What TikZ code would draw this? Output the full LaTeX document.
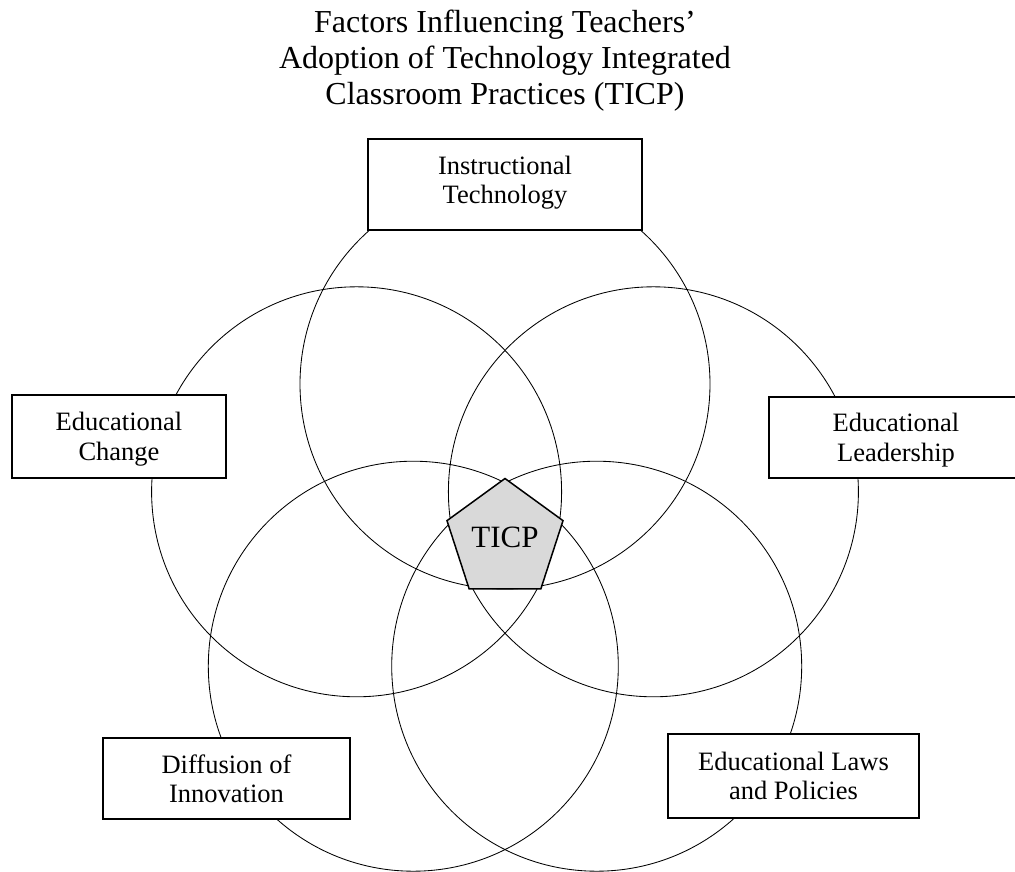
\documentclass[tikz,border=0pt]{standalone}
\usepackage{fontspec}
\setmainfont{Liberation Serif}
\usetikzlibrary{shapes.geometric}
\definecolor{corefill}{RGB}{217,217,217}
\begin{document}
\begin{tikzpicture}[x=1pt,y=-1pt,
  ring/.style={draw=black,line width=0.85pt},
  factor/.style={draw=black,line width=1.6pt,fill=white,align=center,
    inner sep=0pt,text depth=0pt,font=\fontsize{26.5}{29.5}\selectfont},
  core/.style={regular polygon,regular polygon sides=5,minimum size=122pt,
    inner sep=0pt,text depth=5pt,draw=black,line width=1.5pt,fill=corefill,
    font=\fontsize{31}{36}\selectfont},
  heading/.style={align=center,anchor=north,inner sep=0pt,
    font=\fontsize{32}{36}\selectfont}]
\useasboundingbox (0,0) rectangle (1015,872);
\clip (0,0) rectangle (1015,872);

% title
\node[heading] (title) at (505,10)
  {Factors Influencing Teachers’\\Adoption of Technology Integrated\\Classroom Practices (TICP)};

% five overlapping circles around the hub
\coordinate (hub) at (505,540);
\coordinate (cTop) at (505,384);
\coordinate (cLeft) at (356.6,491.8);
\coordinate (cRight) at (653.4,491.8);
\coordinate (cBotL) at (413.3,666.2);
\coordinate (cBotR) at (596.7,666.2);
\foreach \c in {cTop,cLeft,cRight,cBotL,cBotR}
  \draw[ring] (\c) circle[radius=205pt];

% factor boxes
\node[factor,minimum width=274pt,minimum height=91pt,text depth=9.6pt] (tech) at (505,184.5)
  {Instructional\\Technology};
\node[factor,minimum width=214pt,minimum height=83pt] (change) at (119,436.5)
  {Educational\\Change};
\node[factor,minimum width=254pt,minimum height=81pt] (lead) at (896,437.5)
  {Educational\\Leadership};
\node[factor,minimum width=247pt,minimum height=81pt] (diff) at (226.5,778.5)
  {Diffusion of\\Innovation};
\node[factor,minimum width=251pt,minimum height=84pt] (laws) at (793.5,776)
  {Educational Laws\\and Policies};

% centre pentagon
\node[core] (ticp) at (505,539.5) {TICP};
\end{tikzpicture}
\end{document}
